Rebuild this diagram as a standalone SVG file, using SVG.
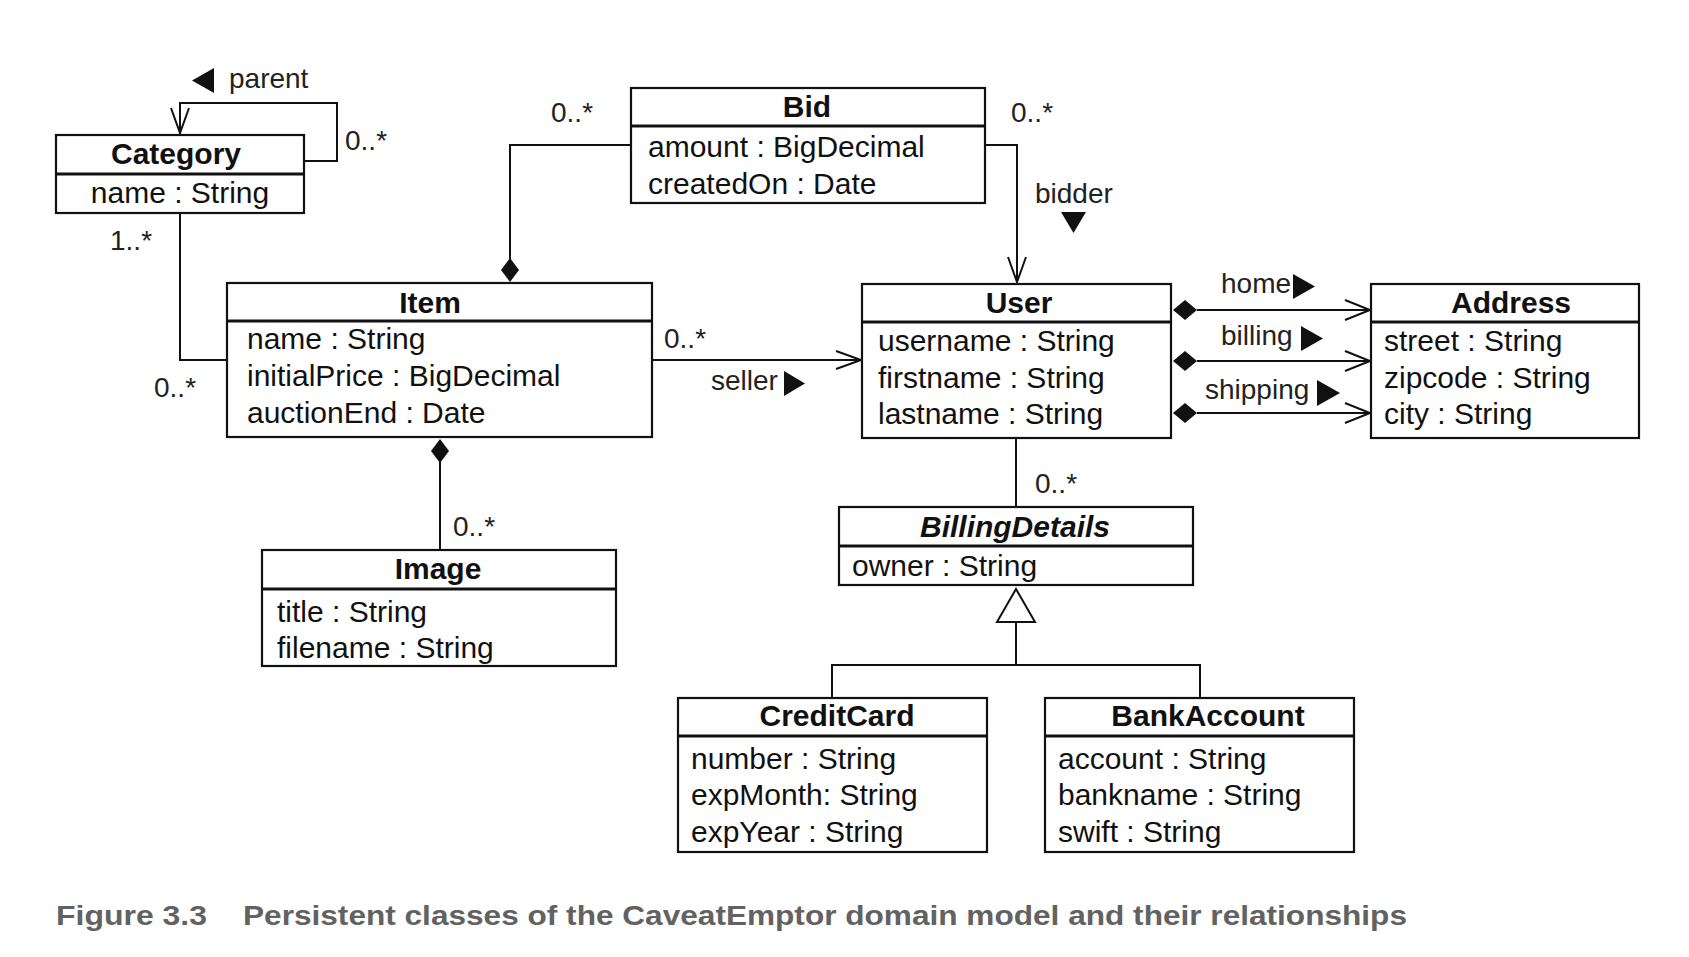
<svg xmlns="http://www.w3.org/2000/svg" width="1689" height="957" viewBox="0 0 1689 957">
<style>
  .box{fill:#fff;stroke:#111;stroke-width:2.2}
  .div{stroke:#111;stroke-width:3}
  .name{font-family:"Liberation Sans",Arial,sans-serif;font-size:30px;font-weight:bold;fill:#111;text-anchor:middle}
  .attr{font-family:"Liberation Sans",Arial,sans-serif;font-size:30px;fill:#111}
  .lbl{font-family:"Liberation Sans",Arial,sans-serif;font-size:28px;fill:#222}
  .ln{fill:none;stroke:#111;stroke-width:2}
  .dia{fill:#111;stroke:none}
  .tri{fill:#111;stroke:none}
  .cap{font-family:"Liberation Sans",Arial,sans-serif;font-size:28px;font-weight:bold;fill:#626262}
</style>
<rect width="1689" height="957" fill="#fff"/>

<g id="connectors">
  <!-- Category self loop -->
  <polyline class="ln" points="304,161 337,161 337,103 180,103 180,134"/>
  <polyline class="ln" points="171,108 180,133 189,108"/>
  <!-- Category - Item -->
  <polyline class="ln" points="180,213 180,360 227,360"/>
  <!-- Bid - Item composition -->
  <polyline class="ln" points="631,145 510,145 510,259"/>
  <polygon class="dia" points="510,258 519,270 510,282 501,270"/>
  <!-- Bid - User bidder -->
  <polyline class="ln" points="985,145 1017,145 1017,282"/>
  <polyline class="ln" points="1008,257 1017,282 1026,257"/>
  <!-- Item - User seller -->
  <line class="ln" x1="652" y1="360" x2="861" y2="360"/>
  <polyline class="ln" points="836,351 861,360 836,369"/>
  <!-- Item - Image composition -->
  <line class="ln" x1="440" y1="462" x2="440" y2="550"/>
  <polygon class="dia" points="440,439 449,451 440,463 431,451"/>
  <!-- User - Address -->
  <line class="ln" x1="1197" y1="310" x2="1370" y2="310"/>
  <polyline class="ln" points="1345,300 1370,310 1345,320"/>
  <polygon class="dia" points="1173,310 1185,300 1197,310 1185,320"/>
  <line class="ln" x1="1197" y1="361" x2="1370" y2="361"/>
  <polyline class="ln" points="1345,351 1370,361 1345,371"/>
  <polygon class="dia" points="1173,361 1185,351 1197,361 1185,371"/>
  <line class="ln" x1="1197" y1="413" x2="1370" y2="413"/>
  <polyline class="ln" points="1345,403 1370,413 1345,423"/>
  <polygon class="dia" points="1173,413 1185,403 1197,413 1185,423"/>
  <!-- User - BillingDetails -->
  <line class="ln" x1="1016" y1="438" x2="1016" y2="507"/>
  <!-- Generalization -->
  <polygon points="1016,589 1035,622 997,622" fill="#fff" stroke="#111" stroke-width="2"/>
  <polyline class="ln" points="1016,622 1016,665"/>
  <polyline class="ln" points="832,698 832,665 1200,665 1200,698"/>

  <!-- multiplicities -->
  <text class="lbl" x="345" y="150">0..*</text>
  <text class="lbl" x="110" y="250">1..*</text>
  <text class="lbl" x="154" y="397">0..*</text>
  <text class="lbl" x="551" y="122">0..*</text>
  <text class="lbl" x="1011" y="122">0..*</text>
  <text class="lbl" x="664" y="348">0..*</text>
  <text class="lbl" x="453" y="536">0..*</text>
  <text class="lbl" x="1035" y="493">0..*</text>

  <!-- role labels -->
  <polygon class="tri" points="192,80.5 214,68 214,93"/>
  <text class="lbl" x="229" y="88">parent</text>
  <text class="lbl" x="1035" y="203">bidder</text>
  <polygon class="tri" points="1061,212 1086,212 1073.5,233"/>
  <text class="lbl" x="711" y="390">seller</text>
  <polygon class="tri" points="784,371 784,396 805,383.5"/>
  <text class="lbl" x="1221" y="293">home</text>
  <polygon class="tri" points="1293,274 1293,299 1315,286.5"/>
  <text class="lbl" x="1221" y="345">billing</text>
  <polygon class="tri" points="1301,326 1301,351 1323,338.5"/>
  <text class="lbl" x="1205" y="399">shipping</text>
  <polygon class="tri" points="1317,380 1317,406 1340,393"/>
</g>

<g id="Category">
  <rect class="box" x="56" y="135" width="248" height="78"/>
  <line class="div" x1="56" y1="174" x2="304" y2="174"/>
  <text class="name" x="176" y="164">Category</text>
  <text class="attr" x="180" y="203" text-anchor="middle">name : String</text>
</g>

<g id="Bid">
  <rect class="box" x="631" y="88" width="354" height="115"/>
  <line class="div" x1="631" y1="126" x2="985" y2="126"/>
  <text class="name" x="807" y="117">Bid</text>
  <text class="attr" x="648" y="157">amount : BigDecimal</text>
  <text class="attr" x="648" y="194">createdOn : Date</text>
</g>

<g id="Item">
  <rect class="box" x="227" y="283" width="425" height="154"/>
  <line class="div" x1="227" y1="321" x2="652" y2="321"/>
  <text class="name" x="430" y="313">Item</text>
  <text class="attr" x="247" y="349">name : String</text>
  <text class="attr" x="247" y="386">initialPrice : BigDecimal</text>
  <text class="attr" x="247" y="423">auctionEnd : Date</text>
</g>

<g id="User">
  <rect class="box" x="862" y="284" width="309" height="154"/>
  <line class="div" x1="862" y1="322" x2="1171" y2="322"/>
  <text class="name" x="1019" y="313">User</text>
  <text class="attr" x="878" y="351">username : String</text>
  <text class="attr" x="878" y="388">firstname : String</text>
  <text class="attr" x="878" y="424">lastname : String</text>
</g>

<g id="Address">
  <rect class="box" x="1371" y="284" width="268" height="154"/>
  <line class="div" x1="1371" y1="322" x2="1639" y2="322"/>
  <text class="name" x="1511" y="313">Address</text>
  <text class="attr" x="1384" y="351">street : String</text>
  <text class="attr" x="1384" y="388">zipcode : String</text>
  <text class="attr" x="1384" y="424">city : String</text>
</g>

<g id="Image">
  <rect class="box" x="262" y="550" width="354" height="116"/>
  <line class="div" x1="262" y1="589" x2="616" y2="589"/>
  <text class="name" x="438" y="579">Image</text>
  <text class="attr" x="277" y="622">title : String</text>
  <text class="attr" x="277" y="658">filename : String</text>
</g>

<g id="BillingDetails">
  <rect class="box" x="839" y="507" width="354" height="78"/>
  <line class="div" x1="839" y1="546" x2="1193" y2="546"/>
  <text class="name" x="1015" y="537" font-style="italic">BillingDetails</text>
  <text class="attr" x="852" y="576">owner : String</text>
</g>

<g id="CreditCard">
  <rect class="box" x="678" y="698" width="309" height="154"/>
  <line class="div" x1="678" y1="736" x2="987" y2="736"/>
  <text class="name" x="837" y="726">CreditCard</text>
  <text class="attr" x="691" y="769">number : String</text>
  <text class="attr" x="691" y="805">expMonth: String</text>
  <text class="attr" x="691" y="842">expYear : String</text>
</g>

<g id="BankAccount">
  <rect class="box" x="1045" y="698" width="309" height="154"/>
  <line class="div" x1="1045" y1="736" x2="1354" y2="736"/>
  <text class="name" x="1208" y="726">BankAccount</text>
  <text class="attr" x="1058" y="769">account : String</text>
  <text class="attr" x="1058" y="805">bankname : String</text>
  <text class="attr" x="1058" y="842">swift : String</text>
</g>

<g id="caption">
  <text class="cap" x="56" y="925" textLength="151" lengthAdjust="spacingAndGlyphs">Figure 3.3</text>
  <text class="cap" x="243" y="925" textLength="1164" lengthAdjust="spacingAndGlyphs">Persistent classes of the CaveatEmptor domain model and their relationships</text>
</g>
</svg>
